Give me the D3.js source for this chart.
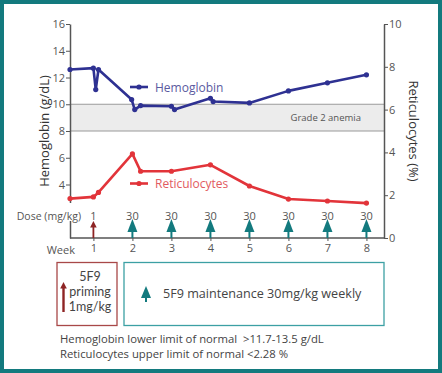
<!DOCTYPE html>
<html>
<head>
<meta charset="utf-8">
<script src="https://cdn.jsdelivr.net/npm/d3@7"></script>
<style>
  body { margin: 0; background: #fff; }
  svg text { font-family: "Open Sans", Lato, sans-serif; }
</style>
</head>
<body>
<div id="chart"></div>
<script>
// Data
const hbWeek = [0.4, 1.0, 1.06, 1.13, 1.98, 2.06, 2.21, 3.0, 3.08, 4.0, 4.07, 5, 6, 7, 8];
const hbValue = [12.6, 12.7, 11.1, 12.6, 10.35, 9.6, 9.9, 9.85, 9.6, 10.45, 10.2, 10.1, 11.0, 11.6, 12.2];
const retWeek = [0.4, 1.0, 1.13, 2.0, 2.21, 3.0, 4.0, 5, 6, 7, 8];
const retValue = [1.84, 1.92, 2.13, 3.93, 3.12, 3.12, 3.42, 2.43, 1.82, 1.73, 1.63];
const doseWeek = [1, 2, 3, 4, 5, 6, 7, 8];
const doseValue = [1, 30, 30, 30, 30, 30, 30, 30];
const hbTicks = [4, 6, 8, 10, 12, 14, 16];
const retTicks = [0, 2, 4, 6, 8, 10];
const grade2 = [8, 10];
const primingLines = ["5F9", "priming", "1mg/kg"];

const W = 442, H = 373;
const hbColor = "#2e3192", retColor = "#e2343a";
const teal = "#137a7e", darkRed = "#8e2424";
const font = "'Open Sans', Lato, sans-serif";

const svg = d3.select("#chart").append("svg")
  .attr("width", W).attr("height", H);

// outer frame
svg.append("rect").attr("x", 2).attr("y", 2).attr("width", W - 4).attr("height", H - 4)
  .attr("fill", "#fff").attr("stroke", teal).attr("stroke-width", 4);

const x = d3.scaleLinear().domain([0.4, 8.45]).range([70, 384]);
const yL = d3.scaleLinear().domain([0, 16]).range([238, 24]);
const yR = d3.scaleLinear().domain([0, 10]).range([238, 24]);

// grade 2 band
svg.append("rect")
  .attr("x", x(0.4)).attr("width", x(8.45) - x(0.4))
  .attr("y", yL(grade2[1])).attr("height", yL(grade2[0]) - yL(grade2[1]))
  .attr("fill", "#ececec");
grade2.forEach(v => {
  svg.append("line").attr("x1", x(0.4)).attr("x2", x(8.45))
    .attr("y1", yL(v)).attr("y2", yL(v))
    .attr("stroke", "#9a9a9a").attr("stroke-width", 1);
});
svg.append("text").attr("x", 361).attr("y", 121).attr("text-anchor", "end")
  .attr("font-size", 9.5).attr("fill", "#555").text("Grade 2 anemia");

// axes
const left = svg.append("g").attr("transform", `translate(${x(0.4)},0)`)
  .call(d3.axisLeft(yL).tickValues(hbTicks).tickSize(4).tickSizeOuter(0));
const right = svg.append("g").attr("transform", `translate(${x(8.45)},0)`)
  .call(d3.axisRight(yR).tickValues(retTicks).tickSize(4).tickSizeOuter(0));
[left, right].forEach(g => {
  g.select(".domain").attr("stroke", "#555").attr("stroke-width", 1.5);
  g.selectAll(".tick line").attr("stroke", "#555");
  g.selectAll(".tick text").attr("font-size", 11).attr("fill", "#555")
    .style("font-family", font);
});
left.selectAll(".tick text").attr("x", -5);
right.selectAll(".tick text").attr("x", 5);

// week baseline
const bottom = svg.append("g").attr("transform", `translate(0,${yL(0)})`)
  .call(d3.axisBottom(x).tickValues(doseWeek).tickSize(3).tickFormat(d3.format("d")));
bottom.select(".domain").attr("d", `M${x(0.4)},0H${x(8.45)}`)
  .attr("stroke", "#555").attr("stroke-width", 1.5);
bottom.selectAll(".tick line").attr("stroke", "#555");
bottom.selectAll(".tick text").attr("font-size", 11).attr("fill", "#555")
  .attr("y", 6).style("font-family", font);
svg.append("text").attr("x", 75).attr("y", 254).attr("text-anchor", "end")
  .attr("font-size", 11).attr("fill", "#555").text("Week");

// dose label with white background breaking the left axis
svg.append("rect").attr("x", 14).attr("y", 203).attr("width", 70).attr("height", 18).attr("fill", "#fff");
svg.append("text").attr("x", 81).attr("y", 220).attr("text-anchor", "end")
  .attr("font-size", 10.5).attr("fill", "#555").text("Dose (mg/kg)");

// axis titles
svg.append("text").attr("transform", "translate(49,131) rotate(-90)")
  .attr("text-anchor", "middle").attr("font-size", 13).attr("fill", "#333")
  .text("Hemoglobin (g/dL)");
svg.append("text").attr("transform", "translate(409,131) rotate(90)")
  .attr("text-anchor", "middle").attr("font-size", 13).attr("fill", "#333")
  .text("Reticulocytes (%)");

// series
const hb = hbWeek.map((w, i) => ({ w, v: hbValue[i] }));
const ret = retWeek.map((w, i) => ({ w, v: retValue[i] }));

svg.append("path").datum(hb)
  .attr("d", d3.line().x(d => x(d.w)).y(d => yL(d.v)))
  .attr("fill", "none").attr("stroke", hbColor).attr("stroke-width", 2.6)
  .attr("stroke-linejoin", "round");
svg.selectAll(".hbdot").data(hb).join("circle")
  .attr("cx", d => x(d.w)).attr("cy", d => yL(d.v)).attr("r", 2.6).attr("fill", hbColor);

svg.append("path").datum(ret)
  .attr("d", d3.line().x(d => x(d.w)).y(d => yR(d.v)))
  .attr("fill", "none").attr("stroke", retColor).attr("stroke-width", 2.6)
  .attr("stroke-linejoin", "round");
svg.selectAll(".retdot").data(ret).join("circle")
  .attr("cx", d => x(d.w)).attr("cy", d => yR(d.v)).attr("r", 2.6).attr("fill", retColor);

// legends
function legend(y, color, textColor, label) {
  svg.append("line").attr("x1", 130).attr("x2", 148).attr("y1", y).attr("y2", y)
    .attr("stroke", color).attr("stroke-width", 2.6);
  svg.append("circle").attr("cx", 139).attr("cy", y).attr("r", 2.6).attr("fill", color);
  svg.append("text").attr("x", 155).attr("y", y + 4.5).attr("font-size", 12)
    .attr("fill", textColor).text(label);
}
legend(87, hbColor, "#5a5aa0", "Hemoglobin");
legend(183.5, retColor, "#e25a60", "Reticulocytes");

// dose arrows
function tealArrow(cx, tip, base, bottomY) {
  svg.append("line").attr("x1", cx).attr("x2", cx).attr("y1", base - 1).attr("y2", bottomY)
    .attr("stroke", teal).attr("stroke-width", 2);
  svg.append("path").attr("d", `M${cx},${tip}L${cx - 5},${base}L${cx + 5},${base}Z`).attr("fill", teal);
}
function redArrow(cx, tip, bottomY, w) {
  svg.append("line").attr("x1", cx).attr("x2", cx).attr("y1", tip + 3).attr("y2", bottomY)
    .attr("stroke", darkRed).attr("stroke-width", w);
  svg.append("path").attr("d", `M${cx},${tip}L${cx - 3.3},${tip + 6.5}L${cx + 3.3},${tip + 6.5}Z`).attr("fill", darkRed);
}
doseWeek.forEach((w, i) => {
  const cx = x(w);
  if (doseValue[i] === 1) redArrow(cx, 221, yL(0), 1.8);
  else tealArrow(cx, 219, 232, yL(0));
  svg.append("text").attr("x", cx).attr("y", 220).attr("text-anchor", "middle")
    .attr("font-size", 11).attr("fill", "#555").text(doseValue[i]);
});

// bottom legend boxes
svg.append("rect").attr("x", 57).attr("y", 262.5).attr("width", 60).attr("height", 63)
  .attr("fill", "none").attr("stroke", "#a84848").attr("stroke-width", 1.3);
redArrow(63.5, 282, 312, 2.4);
primingLines.forEach((t, i) => {
  svg.append("text").attr("x", 90).attr("y", 281 + i * 15).attr("text-anchor", "middle")
    .style("font-family", "Lato, sans-serif")
    .attr("font-size", 12.5).attr("fill", "#444").text(t);
});

svg.append("rect").attr("x", 124).attr("y", 262.5).attr("width", 260).attr("height", 63)
  .attr("fill", "none").attr("stroke", "#3ca0a4").attr("stroke-width", 1.3);
tealArrow(146, 286, 298, 302);
svg.append("text").attr("x", 163).attr("y", 298).attr("font-size", 12.6)
  .attr("fill", "#444").text("5F9 maintenance 30mg/kg weekly");

// footnotes
svg.append("text").attr("x", 60).attr("y", 343).attr("font-size", 11.3)
  .attr("fill", "#444").attr("xml:space", "preserve")
  .text("Hemoglobin lower limit of normal  >11.7-13.5 g/dL");
svg.append("text").attr("x", 60).attr("y", 358).attr("font-size", 11.3)
  .attr("fill", "#444").text("Reticulocytes upper limit of normal <2.28 %");
</script>
</body>
</html>
